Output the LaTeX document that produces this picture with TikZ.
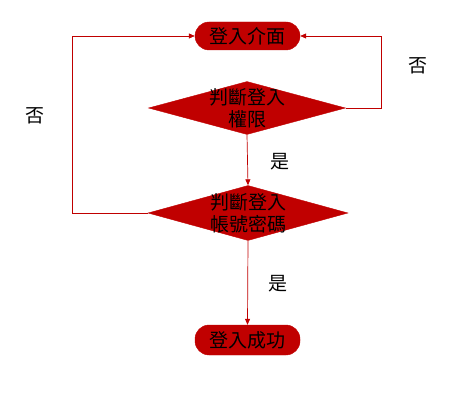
\documentclass[tikz,border=0pt]{standalone}
\usepackage{fontspec}
\newfontfamily\cjk{Noto Sans CJK TC}
\usetikzlibrary{positioning,shapes.geometric,arrows.meta}
\definecolor{flowred}{HTML}{C00000}

\begin{document}
\begin{tikzpicture}[
		x=1pt, y=1pt,
		every node/.style={font=\cjk\fontsize{19}{22}\selectfont},
		term/.style={rectangle, rounded corners=14pt, draw=flowred, fill=flowred, text=black, inner sep=0pt},
		decide/.style={diamond, draw=flowred, fill=flowred, inner sep=0pt},
		line/.style={draw=flowred, line width=0.7pt, -{Triangle[length=6pt,width=5pt]}},
		]
		\useasboundingbox (0,0) rectangle (461,405);

		%Main Nodes
		\node[term, minimum width=105pt, minimum height=28pt]	(login)		at (247.5,369)	{登入介面};
		\node[decide, minimum width=197pt, minimum height=53pt,
			label={[align=center, font=\cjk\fontsize{19}{22}\selectfont]center:判斷登入\\權限}]	(check_auth)	at (247,297)	{};
		\node[decide, minimum width=200pt, minimum height=55pt,
			label={[align=center, font=\cjk\fontsize{19}{22}\selectfont]center:判斷登入\\帳號密碼}]	(check_pwd)	at (248,192)	{};
		\node[term, minimum width=105pt, minimum height=30pt]	(success)	at (247.5,65)	{登入成功};

		%Labels
		\node	(no_auth)	at (418,339)	{否};
		\node	(no_pwd)	at (35,289)		{否};
		\node	(yes_auth)	at (280,243)	{是};
		\node	(yes_pwd)	at (278,121)	{是};

		%Main Lines
		\draw[line]	(check_auth.south)	--	(check_pwd.north);
		\draw[line]	(check_pwd.south)	--	(success.north);
		\draw[line]	(check_auth.east)	--	++(36,0)	|-	(login.east);
		\draw[line]	(check_pwd.west)	--	++(-75,0)	|-	(login.west);
	\end{tikzpicture}
\end{document}
